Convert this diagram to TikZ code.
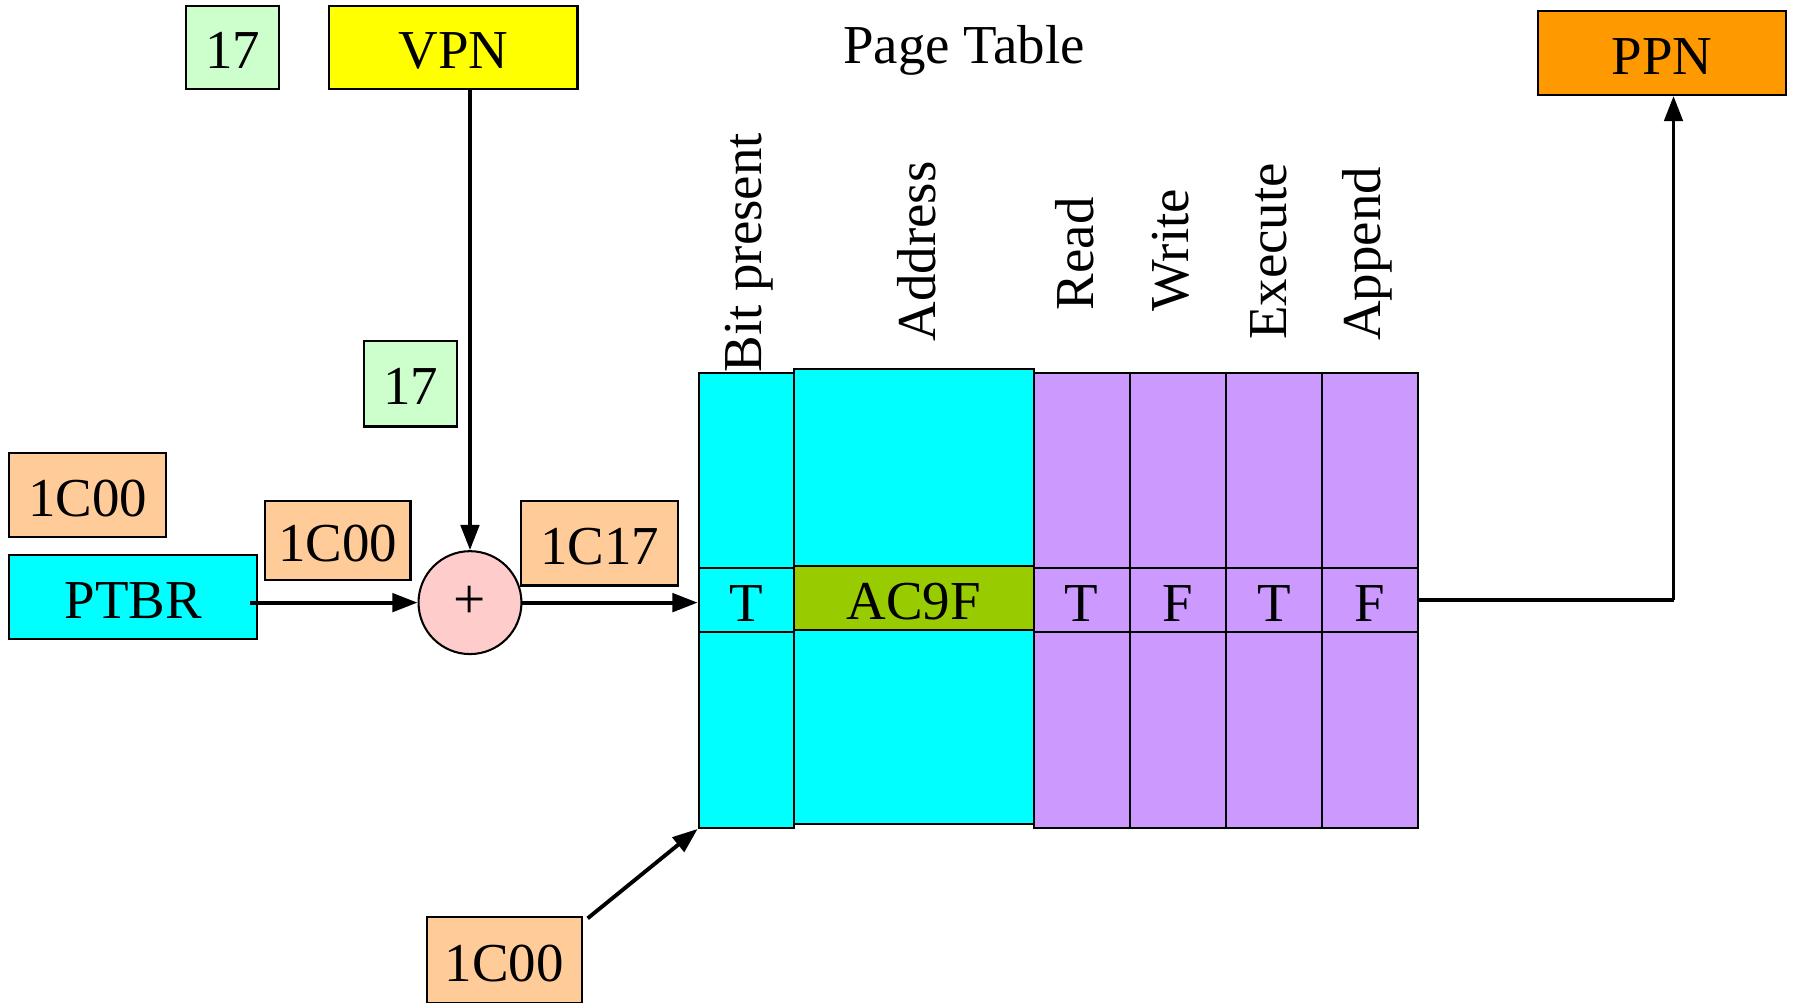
\documentclass[tikz,border=0pt]{standalone}
\usepackage{fontspec}
\setmainfont{Liberation Serif}
\usetikzlibrary{arrows.meta}

\definecolor{cyanfill}{HTML}{00FFFF}
\definecolor{lilac}{HTML}{CC99FF}
\definecolor{olive}{HTML}{99CC00}
\definecolor{peach}{HTML}{FFCC99}
\definecolor{mint}{HTML}{CCFFCC}
\definecolor{lemon}{HTML}{FFFF00}
\definecolor{amber}{HTML}{FF9900}
\definecolor{blush}{HTML}{FFCCCC}

\tikzset{
  box/.style={draw=black, line width=1.8pt, inner sep=0pt, text height=37pt, text depth=0pt,
              font=\fontsize{48}{56}\selectfont},
  cell/.style={box},
  hdr/.style={rotate=90, inner sep=0pt, font=\fontsize{48}{56}\selectfont},
  arr/.style={line width=3.4pt, -{Triangle[length=22pt,width=16pt]}},
  wire/.style={line width=3.4pt},
}

\begin{document}
\begin{tikzpicture}[x=1pt, y=-1pt]
  \useasboundingbox (0,0) rectangle (1568,877);

  % inputs
  \node[box, fill=mint,  minimum width=81pt,  minimum height=73pt] (seventeenA) at (203.5,41.5) {17};
  \node[box, fill=lemon, minimum width=217pt, minimum height=73pt] (vpn) at (396.5,41.5) {VPN};
  \node[inner sep=0pt, font=\fontsize{48}{56}\selectfont] (title) at (843,44) {Page Table};
  \node[box, fill=amber, minimum width=217pt, minimum height=73pt] (ppn) at (1453.5,46.5) {PPN};

  \node[box, fill=mint,  minimum width=82pt,  minimum height=75pt] (seventeenB) at (359,335.5) {17};
  \node[box, fill=peach, minimum width=137pt, minimum height=74pt] (cA) at (76.5,433) {1C00};
  \node[box, fill=cyanfill, minimum width=217pt, minimum height=74pt] (ptbr) at (116.5,522) {PTBR};
  \node[box, fill=peach, minimum width=127pt, minimum height=69pt] (cB) at (295.5,472.5) {1C00};
  \node[draw=black, line width=1.8pt, fill=blush, circle, minimum size=90pt, inner sep=0pt,
        font=\fontsize{50}{56}\selectfont] (plus) at (411,527) {+};
  \node[box, fill=peach, minimum width=137pt, minimum height=74pt] (cC) at (524.5,475) {1C17};
  \node[box, fill=peach, minimum width=136pt, minimum height=75pt] (cD) at (441,839.5) {1C00};

  % page table: bit present column
  \node[cell, fill=cyanfill, minimum width=83pt, minimum height=171pt] (bpTop) at (652.5,411.5) {};
  \node[cell, fill=cyanfill, minimum width=83pt, minimum height=56pt]  (bpMid) at (652.5,525) {T};
  \node[cell, fill=cyanfill, minimum width=83pt, minimum height=171pt] (bpBot) at (652.5,638.5) {};

  % address column
  \node[cell, fill=cyanfill, minimum width=210pt, minimum height=172pt] (adTop) at (799,409) {};
  \node[cell, fill=olive,    minimum width=210pt, minimum height=56pt]  (adMid) at (799,523) {AC9F};
  \node[cell, fill=cyanfill, minimum width=210pt, minimum height=170pt] (adBot) at (799,636) {};

  % permission columns
  \foreach \i/\cx/\v in {1/946/T, 2/1030/F, 3/1114/T, 4/1198/F} {
    \node[cell, fill=lilac, minimum width=84pt, minimum height=171pt] (pTop\i) at (\cx,411.5) {};
    \node[cell, fill=lilac, minimum width=84pt, minimum height=56pt]  (pMid\i) at (\cx,525) {\v};
    \node[cell, fill=lilac, minimum width=84pt, minimum height=171pt] (pBot\i) at (\cx,638.5) {};
  }

  % column headers
  \node[hdr] (hBit)  at (655,221)  {Bit present};
  \node[hdr] (hAddr) at (802,220)  {Address};
  \node[hdr] (hRead) at (940,222)  {Read};
  \node[hdr] (hWrite) at (1024,219) {Write};
  \node[hdr] (hExec) at (1110,220) {Execute};
  \node[hdr] (hApp)  at (1196,222) {Append};

  % connectors
  \draw[arr] (vpn.south -| plus.north) -- (plus.north);
  \draw[arr] ([xshift=-7pt]ptbr.east |- plus.west) -- (plus.west);
  \draw[arr] (plus.east) -- (bpMid.west |- plus.east);
  \coordinate (turn) at ([xshift=10pt]ppn.south |- pMid4.east);
  \draw[wire] (pMid4.east) -- (turn);
  \draw[arr] (turn) -- ([xshift=10pt]ppn.south);
  \draw[arr] ([shift={(4pt,-2pt)}]cD.north east) -- (bpBot.south west);
\end{tikzpicture}
\end{document}
